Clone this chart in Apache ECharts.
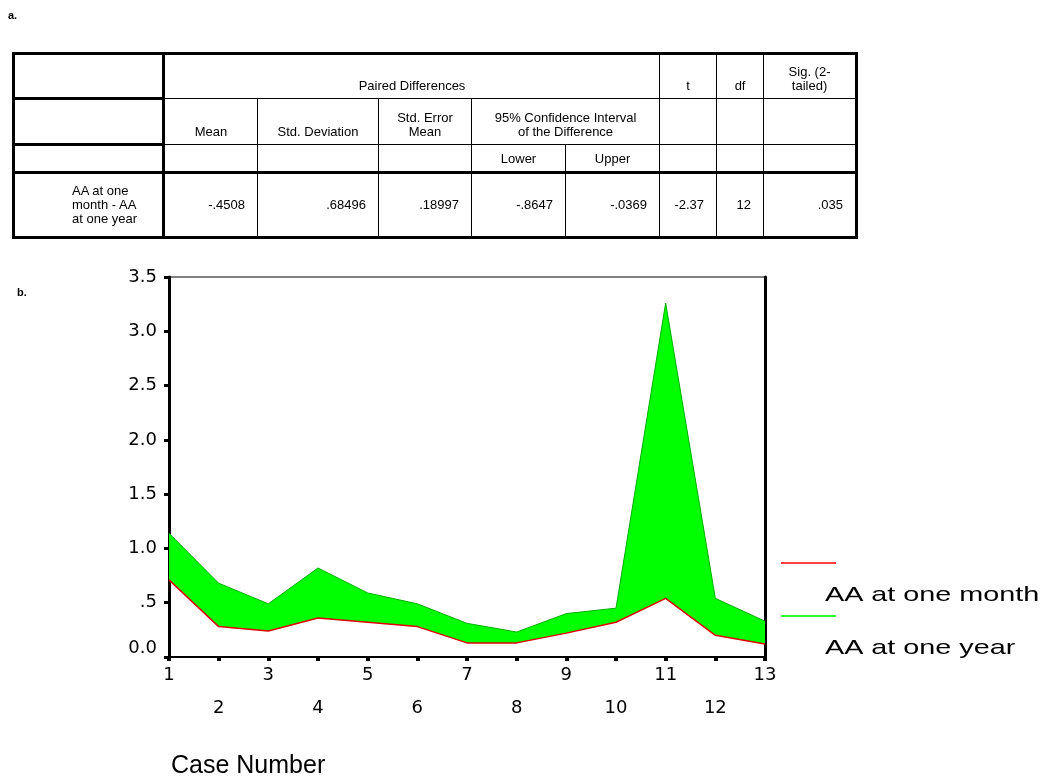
<!DOCTYPE html>
<html>
<head>
<meta charset="utf-8">
<title>Paired samples test - AA</title>
<script src="https://cdn.jsdelivr.net/npm/echarts@6/dist/echarts.min.js"></script>
<style>
    body { margin: 0; background: #fff; }
    #chart { position: absolute; left: 0; top: 0; width: 1042px; height: 777px; }
    .tag { position: absolute; font: bold 11px "Liberation Sans", Arial, sans-serif; color: #000; z-index: 2; }
    #stats {
        position: absolute; left: 12px; top: 52px; z-index: 2;
        border-collapse: collapse; table-layout: fixed; width: 843px;
        border: 3px solid #000; background: transparent;
    }
    #stats td {
        border: 1px solid #000; padding: 0 0 5px 0;
        font: 13px "Liberation Sans", Arial, sans-serif; line-height: 14px;
        text-align: center; vertical-align: bottom; color: #000;
    }
    #stats td.c1 { border-right: 3px solid #000; border-bottom: 3px solid #000; }
    #stats tr.r3 td { border-bottom: 3px solid #000; }
    #stats tr.data td { text-align: right; vertical-align: middle; padding: 0 12px 0 0; }
    #stats tr.data td.c1 { text-align: left; padding: 0 0 0 57px; }
</style>
</head>
<body>
<div class="tag" style="left:8px;top:9px;">a.</div>
<div class="tag" style="left:17px;top:286px;">b.</div>
<table id="stats"></table>
<div id="chart"></div>
<script>
// table a. (paired samples test)
var colWidths = [150, 94, 121, 93, 94, 94, 57, 47, 93];
var rowHeights = [45, 46, 28, 65];
var rowLabel = 'AA at one<br>month - AA<br>at one year';
var statValues = ['-.4508', '.68496', '.18997', '-.8647', '-.0369', '-2.37', '12', '.035'];

// chart b. (case by case)
var caseNumbers = [1, 2, 3, 4, 5, 6, 7, 8, 9, 10, 11, 12, 13];
var aaOneMonth = [0.71, 0.28, 0.24, 0.36, 0.32, 0.28, 0.13, 0.13, 0.22, 0.32, 0.54, 0.20, 0.12];
var aaOneYear = [1.14, 0.68, 0.49, 0.82, 0.59, 0.49, 0.31, 0.23, 0.40, 0.45, 3.26, 0.54, 0.33];
var yTicks = [0, 0.5, 1, 1.5, 2, 2.5, 3, 3.5];
var seriesNames = ['AA at one month', 'AA at one year'];

(function buildTable(){
    var t = document.getElementById('stats');
    var html = '<colgroup>';
    colWidths.forEach(function(w){ html += '<col style="width:' + w + 'px">'; });
    html += '</colgroup>';
    html += '<tr style="height:' + rowHeights[0] + 'px"><td class="c1"></td>' +
        '<td colspan="5">Paired Differences</td><td>t</td><td>df</td><td>Sig. (2-<br>tailed)</td></tr>';
    html += '<tr style="height:' + rowHeights[1] + 'px"><td class="c1"></td>' +
        '<td>Mean</td><td>Std. Deviation</td><td>Std. Error<br>Mean</td>' +
        '<td colspan="2">95% Confidence Interval<br>of the Difference</td><td></td><td></td><td></td></tr>';
    html += '<tr class="r3" style="height:' + rowHeights[2] + 'px"><td class="c1"></td>' +
        '<td></td><td></td><td></td><td>Lower</td><td>Upper</td><td></td><td></td><td></td></tr>';
    html += '<tr class="data" style="height:' + rowHeights[3] + 'px"><td class="c1">' + rowLabel + '</td>';
    statValues.forEach(function(v){ html += '<td>' + v + '</td>'; });
    html += '</tr>';
    t.innerHTML = html;
})();

var chart = echarts.init(document.getElementById('chart'));

// the year series is stacked on the month line so the green fill sits between the two curves
var gapData = aaOneYear.map(function(v, i){ return +(v - aaOneMonth[i]).toFixed(3); });

var axisFont = { fontFamily: 'DejaVu Sans', fontSize: 18, color: '#000' };

var option = {
    animation: false,
    grid: {
        left: 169, right: 277, top: 277, bottom: 120,
        show: true, borderColor: '#000', borderWidth: 1
    },
    xAxis: {
        type: 'category',
        data: caseNumbers,
        boundaryGap: false,
        splitLine: { show: false },
        axisLine: { lineStyle: { color: '#000', width: 2 } },
        axisTick: { show: true, interval: 0, length: 4, lineStyle: { color: '#000', width: 4 } },
        axisLabel: {
            interval: 0,
            margin: 2,
            fontFamily: axisFont.fontFamily,
            fontSize: axisFont.fontSize,
            color: axisFont.color,
            lineHeight: 33,
            formatter: function(v){
                return Number(v) % 2 === 1 ? String(v) : '\n' + v;
            }
        }
    },
    yAxis: [{
        type: 'value',
        min: yTicks[0],
        max: yTicks[yTicks.length - 1],
        interval: 0.5,
        splitLine: { show: false },
        axisLine: { show: true, lineStyle: { color: '#000', width: 3 } },
        axisTick: { show: true, length: 5, lineStyle: { color: '#000', width: 3 } },
        axisLabel: {
            margin: 12,
            fontFamily: axisFont.fontFamily,
            fontSize: axisFont.fontSize,
            color: axisFont.color,
            lineHeight: 18,
            formatter: function(v){
                if (v === 0) return '0.0\n';
                if (v < 1) return String(v).replace(/^0/, '');
                return v.toFixed(1);
            }
        }
    }, {
        type: 'value',
        position: 'right',
        min: yTicks[0],
        max: yTicks[yTicks.length - 1],
        interval: 0.5,
        splitLine: { show: false },
        axisLine: { show: true, lineStyle: { color: '#000', width: 3 } },
        axisTick: { show: false },
        axisLabel: { show: false }
    }],
    series: [{
        name: seriesNames[0],
        type: 'line',
        stack: 'aa',
        symbol: 'none',
        z: 4,
        lineStyle: { color: '#e00000', width: 1.5 },
        data: aaOneMonth
    }, {
        name: seriesNames[1],
        type: 'line',
        stack: 'aa',
        symbol: 'none',
        z: 3,
        lineStyle: { color: '#00b000', width: 1 },
        areaStyle: { color: '#00ff00', opacity: 1 },
        data: gapData
    }],
    graphic: [
        { type: 'line', shape: { x1: 781, y1: 563, x2: 836, y2: 563 }, style: { stroke: '#ff0000', lineWidth: 1.5 } },
        { type: 'text', x: 825, y: 595, scaleX: 1.37,
          style: { text: seriesNames[0], fontFamily: 'Liberation Sans', fontSize: 21, fill: '#000', verticalAlign: 'middle' } },
        { type: 'line', shape: { x1: 781, y1: 616, x2: 836, y2: 616 }, style: { stroke: '#33ff33', lineWidth: 2 } },
        { type: 'text', x: 825, y: 648, scaleX: 1.37,
          style: { text: seriesNames[1], fontFamily: 'Liberation Sans', fontSize: 21, fill: '#000', verticalAlign: 'middle' } },
        { type: 'text', x: 171, y: 766,
          style: { text: 'Case Number', fontFamily: 'Liberation Sans', fontSize: 25, fill: '#000', verticalAlign: 'middle' } }
    ]
};

chart.setOption(option);
</script>
</body>
</html>
